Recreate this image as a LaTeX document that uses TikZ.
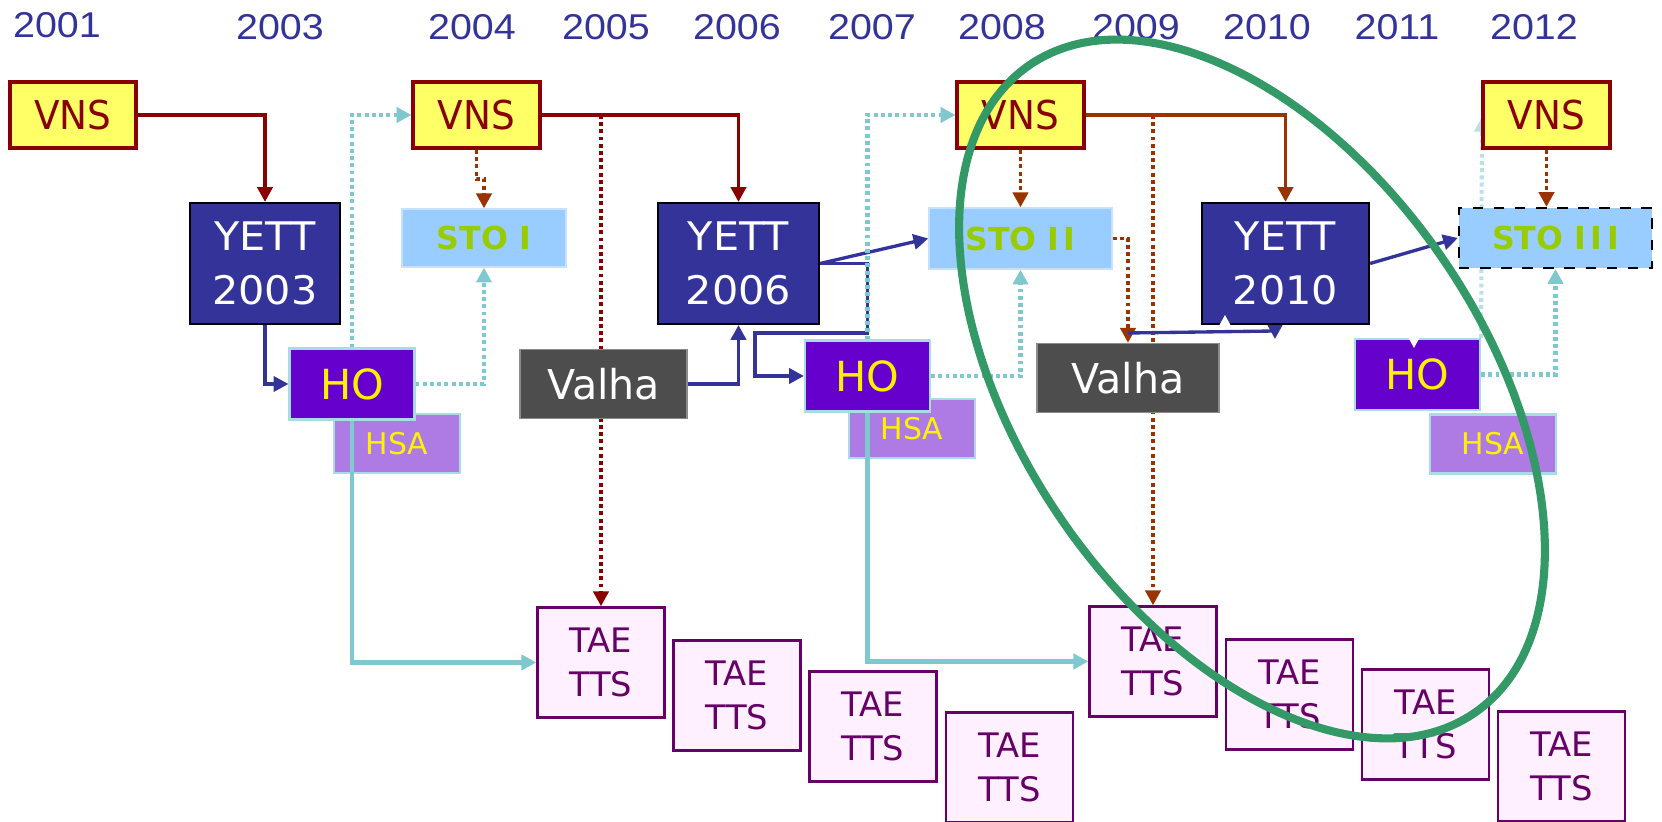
\documentclass[tikz,border=0pt]{standalone}
\usepackage{fontspec}
\setmainfont{DejaVu Sans}
\newfontfamily\vnsfont[FakeStretch=0.94]{DejaVu Sans}
\newfontfamily\yettfont[FakeStretch=1.05]{DejaVu Sans}
\newfontfamily\yearfont[FakeStretch=1.1]{Liberation Sans}
\usetikzlibrary{arrows.meta}
\definecolor{vnsfill}{HTML}{FFFF66}
\definecolor{vnsred}{HTML}{880000}
\definecolor{rustc}{HTML}{993300}
\definecolor{yettblue}{HTML}{333399}
\definecolor{stofill}{HTML}{99CCFF}
\definecolor{stoedge}{HTML}{C4E2FF}
\definecolor{stotext}{HTML}{99CC00}
\definecolor{hofill}{HTML}{6600CC}
\definecolor{hoedge}{HTML}{A8DCE4}
\definecolor{hsafill}{HTML}{AD7BE3}
\definecolor{valhafill}{HTML}{4D4D4D}
\definecolor{valhaedge}{HTML}{8C8C8C}
\definecolor{taefill}{HTML}{FFF0FF}
\definecolor{taeedge}{HTML}{660066}
\definecolor{cyanc}{HTML}{80C8D0}
\definecolor{palec}{HTML}{B8E2E8}
\definecolor{ringgreen}{HTML}{339966}
\pgfdeclarelayer{bg}
\pgfdeclarelayer{mid}
\pgfsetlayers{bg,mid,main}
\newcommand\Igap{\kern1.3pt}
\tikzset{
  box/.style={draw, inner sep=0pt, align=center},
  vnsbox/.style={box, fill=vnsfill, draw=vnsred, line width=1.14pt, text=vnsred,
    minimum width=1.26cm, minimum height=0.66cm, font=\vnsfont\fontsize{11.3pt}{13pt}\selectfont},
  yettbox/.style={box, fill=yettblue, draw=black, line width=0.6pt, text=white,
    minimum height=1.21cm, font=\yettfont\fontsize{11.2pt}{15.4pt}\selectfont},
  stobox/.style={box, fill=stofill, draw=stoedge, line width=0.4pt, text=stotext,
    font=\bfseries\fontsize{9pt}{10pt}\selectfont},
  hobox/.style={box, fill=hofill, draw=hoedge, line width=0.6pt, text=yellow,
    minimum width=1.25cm, minimum height=0.71cm, font=\fontsize{11.8pt}{14pt}\selectfont},
  hsabox/.style={box, fill=hsafill, draw=hoedge, line width=0.6pt, text=yellow,
    minimum width=1.26cm, minimum height=0.59cm, font=\fontsize{8.5pt}{10pt}\selectfont},
  valhabox/.style={box, fill=valhafill, draw=valhaedge, line width=0.4pt, text=white,
    minimum height=0.69cm, font=\fontsize{11.7pt}{14pt}\selectfont},
  taebox/.style={box, fill=taefill, draw=taeedge, line width=0.7pt, text=taeedge,
    minimum width=1.27cm, minimum height=1.10cm, font=\fontsize{9.6pt}{12.5pt}\selectfont},
  year/.style={text=yettblue, inner sep=0pt, font=\yearfont\fontsize{10.2pt}{12pt}\selectfont},
  arr/.style={-{Triangle[length=4.2pt,width=4.3pt]}},
  redline/.style={arr, draw=vnsred, line width=1pt},
  rustline/.style={arr, draw=rustc, line width=1pt},
  blueline/.style={arr, draw=yettblue, line width=0.95pt},
  cyanline/.style={arr, draw=cyanc, line width=1.15pt},
  paleline/.style={arr, draw=palec, line width=1.15pt},
  dotline/.style={dash pattern=on 1.1pt off 0.95pt},
}
\begin{document}
\begin{tikzpicture}[x=0.01cm, y=-0.01cm]
\useasboundingbox (0,0) rectangle (1662,822);
\begin{pgfonlayer}{bg}
\fill[white] (0,0) rectangle (1662,822);
\end{pgfonlayer}

% years
\node[year] (y2001) at (57,25.5) {2001};
\node[year] (y2003) at (280,27.5) {2003};
\node[year] (y2004) at (472,27.5) {2004};
\node[year] (y2005) at (606,27.5) {2005};
\node[year] (y2006) at (737,27.5) {2006};
\node[year] (y2007) at (872,27.5) {2007};
\node[year] (y2008) at (1002,27.5) {2008};
\node[year] (y2009) at (1136,27.5) {2009};
\node[year] (y2010) at (1267,27.5) {2010};
\node[year] (y2011) at (1397,27.5) {2011};
\node[year] (y2012) at (1534,27.5) {2012};

% VNS
\node[vnsbox] (vns1) at (73,115) {VNS};
\node[vnsbox] (vns2) at (476.5,115) {VNS};
\node[vnsbox] (vns3) at (1020.5,115) {VNS};
\node[vnsbox] (vns4) at (1546.5,115) {VNS};

% YETT
\node[yettbox, minimum width=1.50cm] (yett1) at (265,263.5) {YETT\\2003};
\node[yettbox, minimum width=1.61cm] (yett2) at (738.5,263.5) {YETT\\2006};
\node[yettbox, minimum width=1.67cm] (yett3) at (1285.5,263.5) {YETT\\2010};

% STO
\node[stobox, minimum width=1.64cm, minimum height=0.58cm] (sto1) at (484,238) {STO I};
\node[stobox, minimum width=1.83cm, minimum height=0.61cm] (sto2) at (1020.5,238.5) {STO I\Igap I};
\node[stobox, draw=black, dashed, line width=0.6pt, minimum width=1.93cm, minimum height=0.60cm] (sto3) at (1555.5,238) {STO I\Igap I\Igap I};

% Valha
\node[valhabox, minimum width=1.67cm] (valha1) at (603.5,384) {Valha};
\node[valhabox, minimum width=1.82cm] (valha2) at (1128,378) {Valha};

% HSA (behind the connectors)
\begin{pgfonlayer}{bg}
\node[hsabox] (hsa1) at (397,443.5) {HSA};
\node[hsabox] (hsa2) at (912,428.5) {HSA};
\node[hsabox] (hsa3) at (1493,444) {HSA};
\end{pgfonlayer}

% HO
\node[hobox] (ho1) at (352,384) {HO};
\node[hobox] (ho2) at (867.5,376) {HO};
\node[hobox] (ho3) at (1417.5,374.5) {HO};

% TAE / TTS
\node[taebox] (tae1) at (601,662.5) {TAE\\TTS};
\node[taebox] (tae2) at (737,695.5) {TAE\\TTS};
\node[taebox] (tae3) at (873,726.5) {TAE\\TTS};
\node[taebox] (tae4) at (1009.5,767.5) {TAE\\TTS};
\node[taebox] (tae5) at (1153,661.5) {TAE\\TTS};
\node[taebox] (tae6) at (1289.5,694.5) {TAE\\TTS};
\node[taebox] (tae7) at (1425.5,724.5) {TAE\\TTS};
\node[taebox] (tae8) at (1561.5,766.5) {TAE\\TTS};

% helper coordinates
\coordinate (r1) at (867.5,333);
\coordinate (r2) at (755,333);
\coordinate (v2t) at (1128,333);
\coordinate (y3b) at (1275,331);
\coordinate (v4t) at (1482,117);

\begin{pgfonlayer}{mid}
% dark red / rust
\draw[redline] (vns1.east) -| (yett1.north);
\draw[redline] (vns2.east) -| (yett2.north);
\draw[redline, dotline] (tae1.north |- vns2.east) -- (tae1.north);
\draw[rustline, dotline] (vns2.south) -- ++(0,29) -| (sto1.north);
\draw[rustline] (vns3.east) -| (yett3.north);
\draw[rustline, dotline] (tae5.north |- vns3.east) -- (tae5.north);
\draw[rustline, dotline] (vns3.south) -- (sto2.north);
\draw[rustline, dotline] (sto2.east) -| (valha2.north);
\draw[rustline, dotline] (vns4.south) -- (vns4.south |- sto3.north);
% blue
\draw[blueline] (yett1.south) |- (ho1.west);
\draw[blueline] (valha1.east) -| (yett2.south);
\draw[blueline] (yett2.east) -- (sto2.west);
\draw[blueline] (yett2.east) -| (r1) -- (r2) |- (ho2.west);
\draw[blueline] (v2t) -- (y3b) -- ++(0,8);
\draw[blueline] (yett3.east) -- (sto3.west);
% cyan
\draw[cyanline, dotline] (ho1.north) |- (vns2.west);
\draw[cyanline, dotline] (ho1.east) -| (sto1.south);
\draw[cyanline] (ho1.south) |- (tae1.west);
\draw[cyanline, dotline] (ho2.north) |- (vns3.west);
\draw[cyanline, dotline] (ho2.east) -| (sto2.south);
\draw[cyanline] (ho2.south) |- (tae5.west);
\draw[cyanline, dotline] (ho3.east) -| (sto3.south);
\draw[paleline, dotline] (ho3.north east) -- (v4t);
\end{pgfonlayer}

% small white marks
\fill[white] (1219,326) -- (1231,326) -- (1225,315) -- cycle;
\fill[white] (1408,337) -- (1420,337) -- (1414,348) -- cycle;

% green ring
\draw[ringgreen, line width=2.3pt, rotate around={-55.5:(1252,389)}] (1252,389) ellipse [x radius=393, y radius=231];
\end{tikzpicture}
\end{document}
